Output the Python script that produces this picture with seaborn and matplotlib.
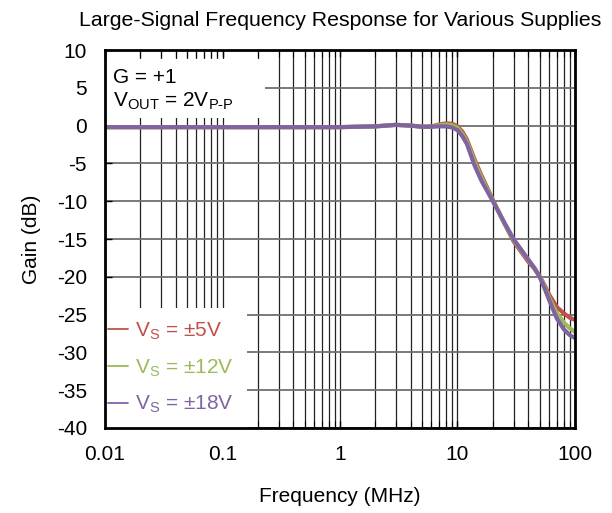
import numpy as np
import pandas as pd
import matplotlib
matplotlib.use('Agg')
import matplotlib.pyplot as plt
import seaborn as sns
from matplotlib.patches import Rectangle
from matplotlib.ticker import LogLocator, NullFormatter

freq = [0.01, 0.02, 0.05, 0.1, 0.2, 0.5, 1, 2, 3, 4, 5, 6, 7, 8, 9, 10, 11, 12,
        14, 16, 20, 25, 30, 40, 45, 50, 55, 60, 70, 80, 90, 100]
gain_5v = [-0.2, -0.2, -0.2, -0.2, -0.2, -0.2, -0.2, -0.1, 0.1, 0.0, -0.15, -0.1, 0.15, 0.3, 0.25,
           -0.1, -0.8, -1.8, -4.5, -6.6, -9.8, -12.9, -15.3, -18.0, -18.9, -19.9, -21.1, -22.3,
           -24.0, -24.8, -25.4, -25.7]
gain_12v = [-0.2, -0.2, -0.2, -0.2, -0.2, -0.2, -0.2, -0.1, 0.1, 0.0, -0.15, -0.15, 0.05, 0.15, 0.05,
            -0.3, -1.1, -2.1, -4.8, -6.9, -9.9, -12.9, -15.1, -17.8, -18.8, -19.9, -21.3, -22.7,
            -24.8, -26.0, -26.8, -27.3]
gain_18v = [-0.2, -0.2, -0.2, -0.2, -0.2, -0.2, -0.2, -0.1, 0.1, 0.0, -0.15, -0.15, -0.1, -0.1, -0.25,
            -0.6, -1.4, -2.4, -5.3, -7.3, -10.0, -12.8, -15.0, -17.7, -18.8, -20.0, -21.5, -23.0,
            -25.5, -26.9, -27.7, -28.1]
labels = ['V$_S$ = ±5V', 'V$_S$ = ±12V', 'V$_S$ = ±18V']
colors = ['#c0504d', '#9bbb59', '#8064a2']

df = pd.concat([
    pd.DataFrame({'freq': freq, 'gain': g, 'supply': lab})
    for g, lab in zip([gain_5v, gain_12v, gain_18v], labels)
])

sns.set_theme(style='white')
plt.rcParams['font.family'] = ['Liberation Sans', 'DejaVu Sans']
plt.rcParams['mathtext.fontset'] = 'custom'
plt.rcParams['mathtext.rm'] = 'Liberation Sans'
plt.rcParams['mathtext.default'] = 'regular'
plt.rcParams['axes.unicode_minus'] = False
plt.rcParams['text.color'] = 'black'
plt.rcParams['axes.labelcolor'] = 'black'
plt.rcParams['xtick.color'] = 'black'
plt.rcParams['ytick.color'] = 'black'

fig = plt.figure(figsize=(6.12, 5.13), dpi=100)
ax = fig.add_axes([0.1716, 0.1657, 0.9395 - 0.1716, 0.9025 - 0.1657])

sns.lineplot(data=df, x='freq', y='gain', hue='supply', palette=colors,
             linewidth=3.0, ax=ax, legend=True)
ax.set_xscale('log')
ax.set_xlim(0.01, 100)
ax.set_ylim(-40, 10)
ax.set_yticks(np.arange(-40, 11, 5))
ax.set_xticks([0.01, 0.1, 1, 10, 100])
ax.set_xticklabels(['0.01', '0.1', '1', '10', '100'])
ax.xaxis.set_minor_locator(LogLocator(base=10, subs=np.arange(2, 10)))
ax.xaxis.set_minor_formatter(NullFormatter())

ax.grid(True, which='both', axis='x', color='#222222', linewidth=0.9)
ax.grid(True, which='major', axis='y', color='#707070', linewidth=1.3)
ax.set_axisbelow(True)

for s in ax.spines.values():
    s.set_color('black')
    s.set_linewidth(2.0)
ax.tick_params(axis='both', which='major', labelsize=15, direction='in',
               length=5, width=1, color='black', labelcolor='black',
               top=True, bottom=True, left=True)
ax.tick_params(axis='x', which='minor', direction='in', length=5, width=0.8,
               top=True, bottom=True, color='black')
ax.tick_params(axis='x', pad=12)
ax.tick_params(axis='y', pad=13)

ax.set_xlabel('Frequency (MHz)', fontsize=15, labelpad=17, color='black')
ax.set_ylabel('Gain (dB)', fontsize=15, labelpad=11, color='black')
ax.set_title('Large-Signal Frequency Response for Various Supplies', fontsize=15.3, pad=17,
             color='black')

# white text box of the annotation
ax.add_patch(Rectangle((0.0, 0.82), 0.34, 0.155, transform=ax.transAxes,
                       facecolor='white', edgecolor='none', zorder=1.5))
ax.text(0.017, 0.952, 'G = +1\nV$_{OUT}$ = 2V$_{\\text{P-P}}$', transform=ax.transAxes,
        fontsize=15, va='top', ha='left', linespacing=1.2, zorder=3, color='black')

leg = ax.legend(loc='lower left', bbox_to_anchor=(-0.02, 0.0), fontsize=15, frameon=True,
                facecolor='white', edgecolor='none', framealpha=1, fancybox=False,
                handlelength=0.96, handletextpad=0.35, labelspacing=0.75,
                borderaxespad=0.0, borderpad=0.6)
leg.set_zorder(2.2)
for line, text, c in zip(leg.get_lines(), leg.get_texts(), colors):
    line.set_linewidth(1.3)
    text.set_color(c)

fig.savefig('out.png', dpi=100)
